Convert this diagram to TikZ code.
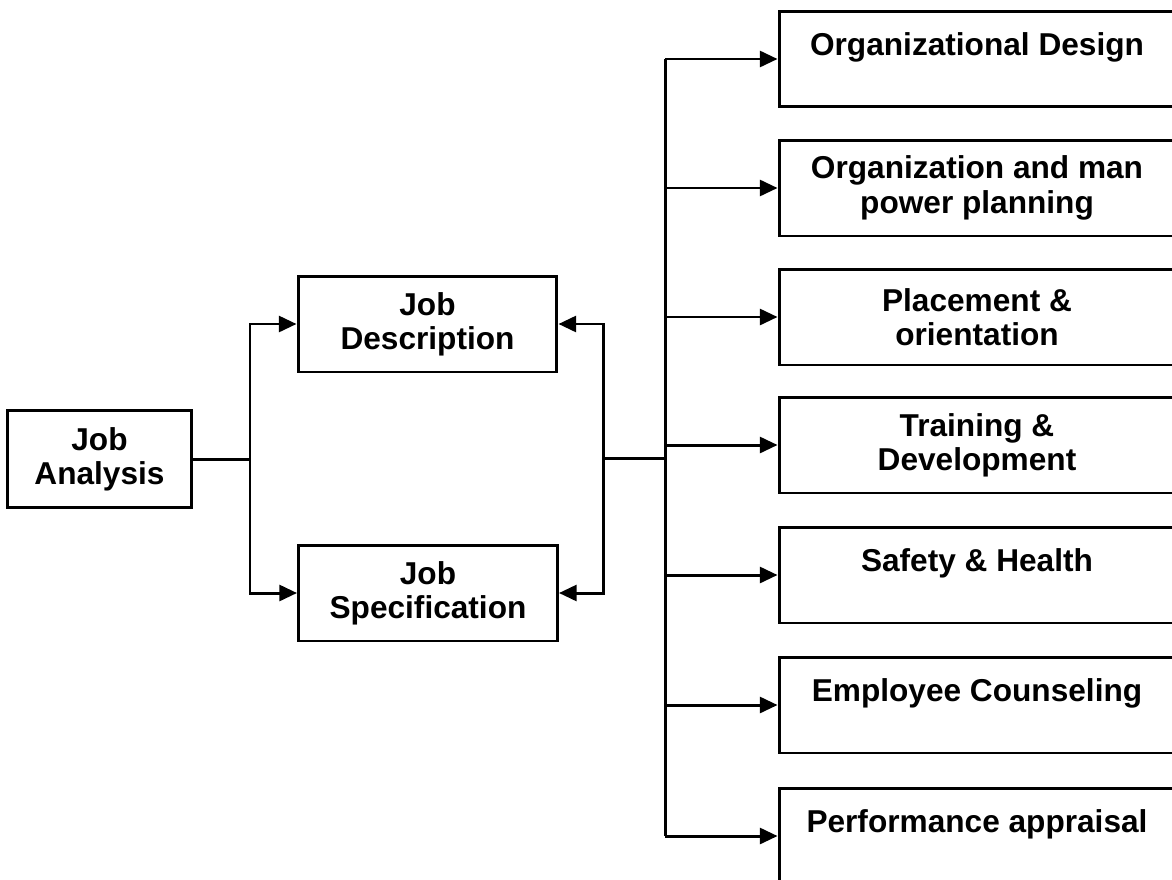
\documentclass[tikz,border=0pt]{standalone}
\usepackage{fontspec}
\setmainfont{Liberation Sans}
\usepackage{tikz}
\usetikzlibrary{arrows.meta}
\usetikzlibrary{positioning}

\begin{document}
\begin{tikzpicture}[x=0.02cm,y=-0.02cm]
  \tikzset{box/.style = {shape=rectangle,draw,line width=1.7pt,align=center,inner sep=2pt,
      font=\fontsize{18}{19.5}\selectfont\bfseries}}
  \tikzset{lbox/.style = {box,minimum width=5.18cm,minimum height=1.92cm}}
  \tikzset{rbox/.style = {box,minimum width=7.92cm,minimum height=1.92cm}}
  \tikzset{rboxone/.style = {rbox,text depth=17pt}}
  \tikzset{edge/.style = {-{Triangle[length=10pt,width=9pt]},line width=1.7pt}}
  \tikzset{wire/.style = {line width=1.7pt}}

  \clip (0,0) rectangle (1172,879);

	\node[box,minimum width=3.7cm,minimum height=1.94cm] (JA) at (99.5,459) {Job\\Analysis};

	\node[lbox] (JD) at (427.5,324) {Job\\Description};
	\node[lbox] (JS) at (428,593) {Job\\Specification};

	\node[rboxone] (OD) at (977,59) {Organizational Design};
	\node[rbox] (OMP) at (977,188) {Organization and man\\power planning};
	\node[rbox] (PO) at (977,317) {Placement \&\\orientation};
	\node[rbox] (TD) at (977,445) {Training \&\\Development};
	\node[rboxone] (SH) at (977,575) {Safety \& Health};
	\node[rboxone] (EC) at (977,705) {Employee Counseling};
	\node[rboxone] (PA) at (977,836) {Performance appraisal};

	\coordinate (split) at (250,459);
	\coordinate (join) at (603,458);
	\coordinate (bus) at (665,458);

    \draw[wire] (JA.east) -- (split);
    \draw[wire] (join) -- (bus);
    \draw[wire] (bus |- OD.west) -- (bus |- PA.west);

    \foreach \to in {JD, JS}
    \draw[edge] (split) |- (\to.west);

    \foreach \to in {JD, JS}
    \draw[edge] (join) |- (\to.east);

    \foreach \to in {OD, OMP, PO, TD, SH, EC, PA}
    \draw[edge] (bus |- \to.west) -- (\to.west);

\end{tikzpicture}
\end{document}
